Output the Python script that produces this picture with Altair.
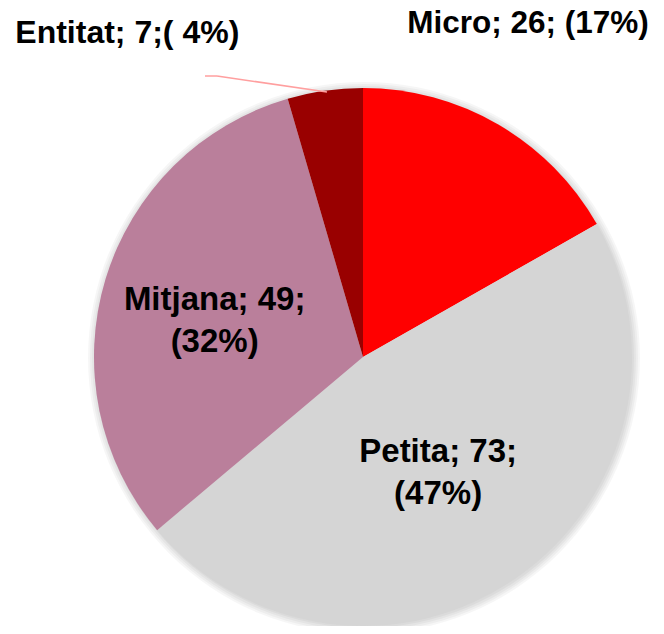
import altair as alt
import pandas as pd

cats = ["Micro", "Petita", "Mitjana", "Entitat"]
values = [26, 73, 49, 7]
labels = ["Micro; 26; (17%)", "Petita; 73;\n(47%)", "Mitjana; 49;\n(32%)", "Entitat; 7;( 4%)"]
colors = ["#FF0000", "#D5D5D5", "#BA7F9B", "#990000"]

df = pd.DataFrame({"cat": cats, "value": values, "label": labels, "idx": list(range(len(cats)))})

CX, CY, R = 355, 349, 269
FONT = "Liberation Sans"

base = alt.Chart(df).encode(
    theta=alt.Theta("value:Q", stack=True),
    order=alt.Order("idx:Q"),
    x=alt.value(CX),
    y=alt.value(CY),
)

shadow_df = pd.DataFrame({"k": [1]})
shadows = []
for r in [270, 272, 274, 276]:
    shadows.append(
        alt.Chart(shadow_df).mark_arc(
            theta=0, theta2=6.2832, radius=r, color="#000000", opacity=0.035
        ).encode(x=alt.value(CX + 1), y=alt.value(CY + 1))
    )

pie = base.mark_arc(radius=R, stroke=None).encode(
    color=alt.Color("cat:N", scale=alt.Scale(domain=cats, range=colors), legend=None)
)


def label_layer(cat, radius, dx, dy, size=32):
    return base.transform_calculate(
        t=f"datum.cat == '{cat}' ? datum.label : ''"
    ).mark_text(
        radius=radius, dx=dx, dy=dy, font=FONT, fontSize=size, fontWeight="bold",
        color="#000000", align="center", baseline="alphabetic", lineBreak="\n", lineHeight=42,
    ).encode(text="t:N")


texts = [
    label_layer("Micro", 370, -21, -4, 31.5),
    label_layer("Petita", 135, -2, -6, 33),
    label_layer("Mitjana", 155, 0, -2, 33),
    label_layer("Entitat", 316, -191, -1, 32),
]

leader1 = alt.Chart(shadow_df).mark_rule(color="#FF9F9F", strokeWidth=1.5).encode(
    x=alt.value(197), x2=alt.value(209), y=alt.value(68), y2=alt.value(68)
)
leader2 = alt.Chart(shadow_df).mark_rule(color="#FF9F9F", strokeWidth=1.5).encode(
    x=alt.value(209), x2=alt.value(319), y=alt.value(68), y2=alt.value(84)
)

chart = alt.layer(*shadows, pie, leader1, leader2, *texts).properties(
    width=648, height=618, padding=0, autosize=alt.AutoSizeParams(type="none")
).configure_view(stroke=None)

chart.save("out.html", embed_options={"renderer": "svg", "actions": False})
